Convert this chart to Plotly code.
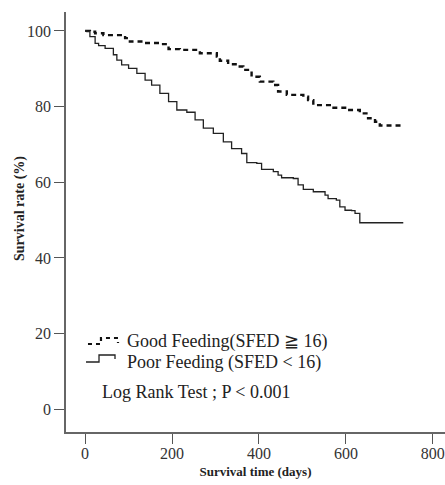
import plotly.graph_objects as go

# Survival time (days) and survival rate (%)
good_days = [0, 11, 23, 42, 92, 103, 134, 172, 192, 218, 264, 303, 310, 329, 350,
             364, 383, 402, 433, 444, 464, 502, 513, 525, 563, 602, 632, 651, 667, 678, 732]
good_surv = [100, 99.8, 99.4, 98.9, 98.1, 97.2, 96.8, 96.5, 95.2, 95.0, 94.1, 93.2, 92.1, 91.2, 90.6,
             89.7, 87.9, 86.6, 85.7, 84.0, 83.1, 82.6, 81.7, 80.4, 79.7, 79.1, 78.2, 76.9, 76.0, 75.0, 74.7]

poor_days = [0, 4, 11, 23, 31, 46, 65, 73, 84, 100, 119, 138, 153, 172, 192, 211, 234, 253, 272,
             295, 318, 337, 360, 372, 395, 406, 433, 444, 452, 479, 490, 502, 525, 552, 559, 578,
             586, 598, 613, 621, 632, 732]
poor_surv = [100, 99.8, 98.5, 96.7, 96.1, 95.4, 93.7, 92.3, 91.0, 90.1, 88.8, 87.0, 85.7, 83.5, 81.3,
             79.1, 78.5, 76.5, 74.3, 72.9, 70.7, 68.9, 67.6, 65.2, 65.0, 63.4, 62.8, 61.9, 61.2, 61.0,
             59.3, 58.1, 57.5, 56.6, 55.7, 55.3, 53.5, 52.6, 52.5, 51.8, 49.3, 49.3]

x_ticks = [0, 200, 400, 600, 800]
y_ticks = [0, 20, 40, 60, 80, 100]

good_name = "Good Feeding(SFED ≧ 16)"
poor_name = "Poor Feeding (SFED < 16)"
test_text = "Log Rank Test ; P < 0.001"

serif = "Liberation Serif, Times New Roman, serif"

# layout geometry (pixels)
W, H = 445, 485
ML, MR, MT, MB = 66, 0, 12, 53
PW, PH = W - ML - MR, H - MT - MB


def px_x(p):
    return (p - ML) / PW


def px_y(p):
    return (H - MB - p) / PH


fig = go.Figure()
fig.add_trace(go.Scatter(x=good_days, y=good_surv, mode="lines", name=good_name,
                         line=dict(shape="hv", color="#111111", width=2.4, dash="5px,4px")))
fig.add_trace(go.Scatter(x=poor_days, y=poor_surv, mode="lines", name=poor_name,
                         line=dict(shape="hv", color="#222222", width=1.3)))

# legend-like labels
fig.add_annotation(text=good_name, xref="paper", yref="paper", x=px_x(125), y=px_y(341),
                   xanchor="left", yanchor="middle", showarrow=False,
                   font=dict(family=serif, size=18, color="#222222"))
fig.add_annotation(text=poor_name, xref="paper", yref="paper", x=px_x(125), y=px_y(362),
                   xanchor="left", yanchor="middle", showarrow=False,
                   font=dict(family=serif, size=18, color="#222222"))
fig.add_annotation(text=test_text, xref="paper", yref="paper", x=px_x(100), y=px_y(392),
                   xanchor="left", yanchor="middle", showarrow=False,
                   font=dict(family=serif, size=18, color="#222222"))
# y axis title
fig.add_annotation(text="<b>Survival rate (%)</b>", xref="paper", yref="paper",
                   x=px_x(20), y=px_y(209), textangle=-90, showarrow=False,
                   xanchor="center", yanchor="middle",
                   font=dict(family=serif, size=14, color="#222222"))


def icon_path(pts):
    return "M" + " L".join(f"{px_x(a):.4f},{px_y(b):.4f}" for a, b in pts)


fig.add_shape(type="path", xref="paper", yref="paper",
              path=icon_path([(88, 344), (101, 344), (101, 338), (118, 338), (118, 343)]),
              line=dict(color="#111111", width=2.2, dash="4px,4px"))
fig.add_shape(type="path", xref="paper", yref="paper",
              path=icon_path([(86, 362), (99, 362), (99, 355), (115, 355), (115, 359)]),
              line=dict(color="#222222", width=1.3))

fig.update_layout(
    width=W, height=H,
    margin=dict(l=ML, r=MR, t=MT, b=MB),
    plot_bgcolor="white", paper_bgcolor="white",
    showlegend=False,
    xaxis=dict(range=[-44, 828], tickvals=x_ticks, ticks="outside", ticklen=10,
               tickcolor="#555555", tickwidth=1.3, showline=True, linecolor="#666666",
               linewidth=1.8, showgrid=False, zeroline=False, ticklabelstandoff=-4,
               tickfont=dict(family=serif, size=16, color="#333333"),
               title=dict(text="<b>Survival time (days)</b>", standoff=6,
                          font=dict(family=serif, size=13, color="#222222"))),
    yaxis=dict(range=[-6, 105], tickvals=y_ticks, ticks="outside", ticklen=10,
               tickcolor="#555555", tickwidth=1.3, showline=True, linecolor="#666666",
               linewidth=1.8, showgrid=False, zeroline=False,
               tickfont=dict(family=serif, size=16, color="#333333")),
)

fig.write_html("out.html", config={"displayModeBar": False},
               post_script="document.body.style.margin='0px';")
